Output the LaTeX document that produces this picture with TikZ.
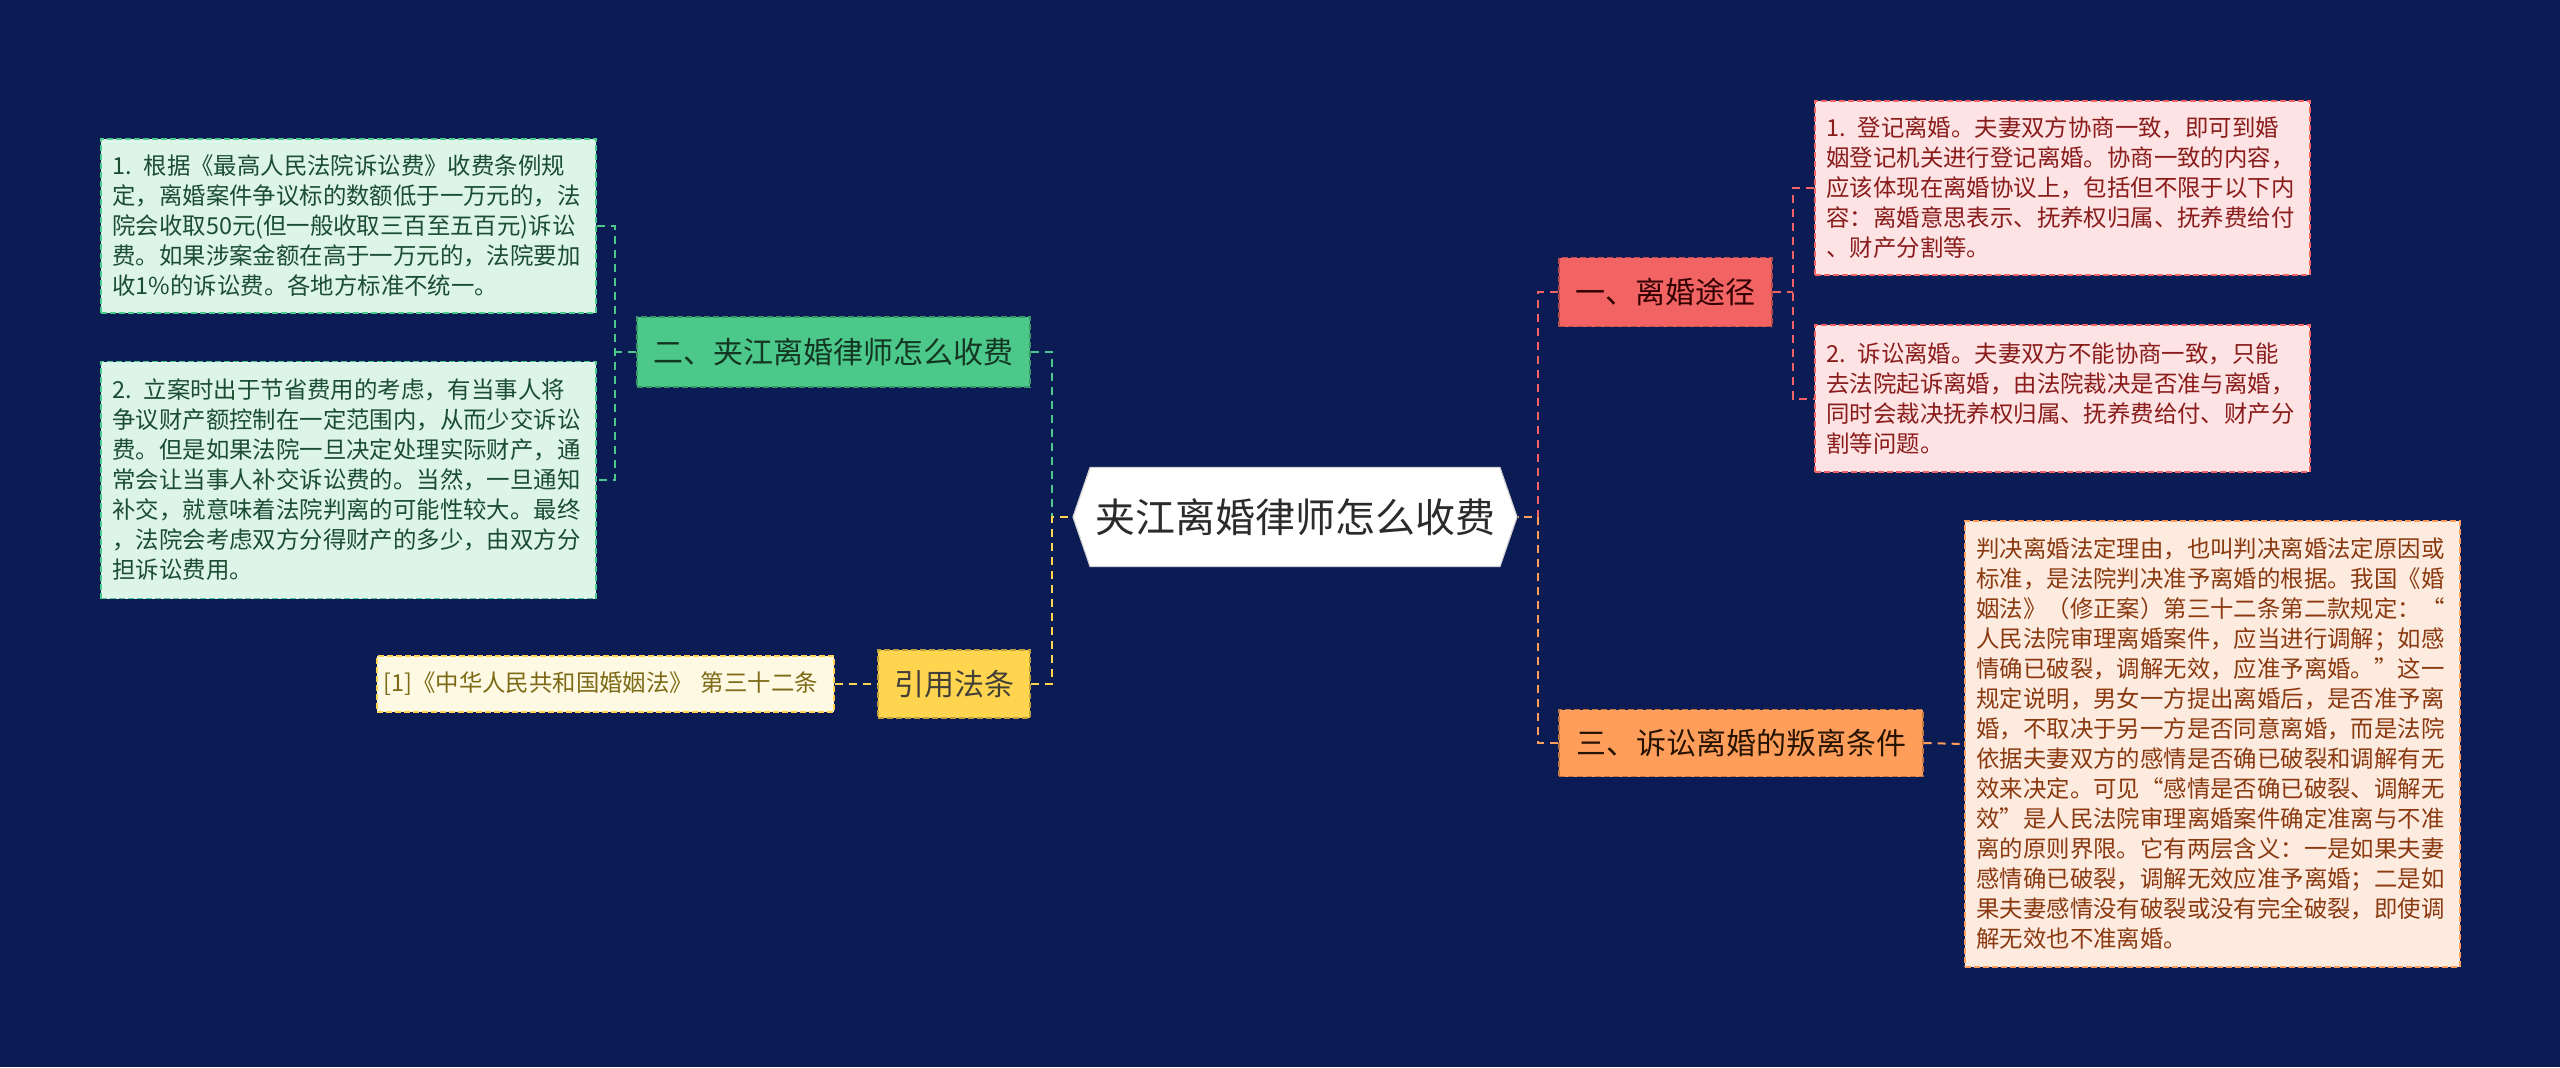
\documentclass[tikz,border=0pt]{standalone}
\usepackage{fontspec}
\usepackage{xcolor}
\usepackage{tikz}
\usetikzlibrary{shapes.symbols}
\newfontfamily\cjk{Noto Sans CJK SC}
\definecolor{navy}{HTML}{0B1C55}
\definecolor{ink}{HTML}{2B2B2B}
\definecolor{cgreen}{HTML}{4CC98A}
\definecolor{cyellow}{HTML}{FFD54F}
\definecolor{cpink}{HTML}{F26464}
\definecolor{corange}{HTML}{FF9E5A}
\definecolor{fgreen}{HTML}{DDF4E8}
\definecolor{fyellow}{HTML}{FEF9E3}
\definecolor{fpink}{HTML}{FDE3E3}
\definecolor{forange}{HTML}{FDEBE0}
\definecolor{tgreen}{HTML}{1B4D32}
\definecolor{tyellow}{HTML}{7D6A17}
\definecolor{tpink}{HTML}{8A1C1C}
\definecolor{torange}{HTML}{8B3A10}
\tikzset{
  every node/.style={font=\cjk, text=ink},
  root/.style={shape=signal, signal to=west and east, signal pointer angle=142,
               fill=white, draw=gray!35, line width=0.6pt, inner sep=0pt,
               minimum width=222pt, minimum height=49.5pt, font=\cjk\fontsize{20}{24}\selectfont},
  % topic box; the argument is the branch colour
  topic/.style={draw=#1!75!black, fill=#1, dash pattern=on 3pt off 1.5pt, line width=0.7pt,
                inner sep=0pt, font=\cjk\fontsize{15}{18}\selectfont},
  % leaf box: border, fill, text colour
  leaf/.style n args={3}{draw=#1, fill=#2, text=#3, dash pattern=on 3pt off 1.5pt, line width=0.7pt,
                align=left, text width=236pt, inner xsep=5.75pt, inner ysep=0pt,
                font=\cjk\fontsize{11.7}{15}\selectfont},
  link/.style={draw=#1, line width=1pt, dash pattern=on 4pt off 3pt},
}

\begin{document}
\begin{tikzpicture}[x=0.5pt,y=-0.5pt]
  \fill[navy] (0,0) rectangle (2560,1067);
  \useasboundingbox (0,0) rectangle (2560,1067);

  % centre
  \node[root] (main) at (1295,517) {夹江离婚律师怎么收费};
  \coordinate (lhub) at (1052,517);
  \coordinate (rhub) at (1538,517);

  % left branches
  \node[topic=cgreen, text=tgreen!70!black, minimum width=196.5pt, minimum height=35pt] (fee) at (833.5,352) {二、夹江离婚律师怎么收费};
  \node[topic=cyellow, text=black!85!yellow, minimum width=76pt, minimum height=34pt] (law) at (954,684) {引用法条};
  \node[leaf={cgreen}{fgreen}{tgreen}, minimum height=87pt] (feea) at (348.5,226) {%
    1. 根据《最高人民法院诉讼费》收费条例规\\
    定，离婚案件争议标的数额低于一万元的，法\\
    院会收取50元(但一般收取三百至五百元)诉讼\\
    费。如果涉案金额在高于一万元的，法院要加\\
    收1\%的诉讼费。各地方标准不统一。};
  \node[leaf={cgreen}{fgreen}{tgreen}, minimum height=118.5pt] (feeb) at (348.5,480) {%
    2. 立案时出于节省费用的考虑，有当事人将\\
    争议财产额控制在一定范围内，从而少交诉讼\\
    费。但是如果法院一旦决定处理实际财产，通\\
    常会让当事人补交诉讼费的。当然，一旦通知\\
    补交，就意味着法院判离的可能性较大。最终\\
    ，法院会考虑双方分得财产的多少，由双方分\\
    担诉讼费用。};
  \node[leaf={cyellow}{fyellow}{tyellow}, text width=222pt, inner xsep=3.25pt, minimum height=28pt] (lawa) at (605.5,684) {\mbox{[1]《中华人民共和国婚姻法》 第三十二条}};
  \coordinate (feehub) at (615,352);
  \draw[link=cgreen] (fee.east) -| (lhub);
  \draw[link=cyellow] (law.east) -| (lhub) -- (main.west);
  \draw[link=cgreen] (fee.west) -- (feehub);
  \draw[link=cgreen] (feea.east) -| (feehub) |- (feeb.east);
  \draw[link=cyellow] (lawa.east) -- (law.west);

  % right branches
  \node[topic=cpink, text=black!80!red, minimum width=106.5pt, minimum height=34.5pt] (way) at (1665.5,292) {一、离婚途径};
  \node[topic=corange, text=black!85!orange, minimum width=182pt, minimum height=33.5pt] (cond) at (1741,743) {三、诉讼离婚的叛离条件};
  \node[leaf={cpink}{fpink}{tpink}, minimum height=87pt] (waya) at (2062.5,188) {%
    1. 登记离婚。夫妻双方协商一致，即可到婚\\
    姻登记机关进行登记离婚。协商一致的内容，\\
    应该体现在离婚协议上，包括但不限于以下内\\
    容：离婚意思表示、抚养权归属、抚养费给付\\
    、财产分割等。};
  \node[leaf={cpink}{fpink}{tpink}, minimum height=73.5pt] (wayb) at (2062.5,398.5) {%
    2. 诉讼离婚。夫妻双方不能协商一致，只能\\
    去法院起诉离婚，由法院裁决是否准与离婚，\\
    同时会裁决抚养权归属、抚养费给付、财产分\\
    割等问题。};
  \node[leaf={corange}{forange}{torange}, minimum height=223pt] (conda) at (2212.5,744) {%
    判决离婚法定理由，也叫判决离婚法定原因或\\
    标准，是法院判决准予离婚的根据。我国《婚\\
    姻法》（修正案）第三十二条第二款规定：“\\
    人民法院审理离婚案件，应当进行调解；如感\\
    情确已破裂，调解无效，应准予离婚。”这一\\
    规定说明，男女一方提出离婚后，是否准予离\\
    婚，不取决于另一方是否同意离婚，而是法院\\
    依据夫妻双方的感情是否确已破裂和调解有无\\
    效来决定。可见“感情是否确已破裂、调解无\\
    效”是人民法院审理离婚案件确定准离与不准\\
    离的原则界限。它有两层含义：一是如果夫妻\\
    感情确已破裂，调解无效应准予离婚；二是如\\
    果夫妻感情没有破裂或没有完全破裂，即使调\\
    解无效也不准离婚。};
  \coordinate (wayhub) at (1793,292);
  \draw[link=cpink] (way.west) -| (rhub);
  \draw[link=corange] (cond.west) -| (rhub) -- (main.east);
  \draw[link=cpink] (way.east) -- (wayhub);
  \draw[link=cpink] (waya.west) -| (wayhub) |- (wayb.west);
  \draw[link=corange] (cond.east) -- (conda.west);
\end{tikzpicture}
\end{document}
